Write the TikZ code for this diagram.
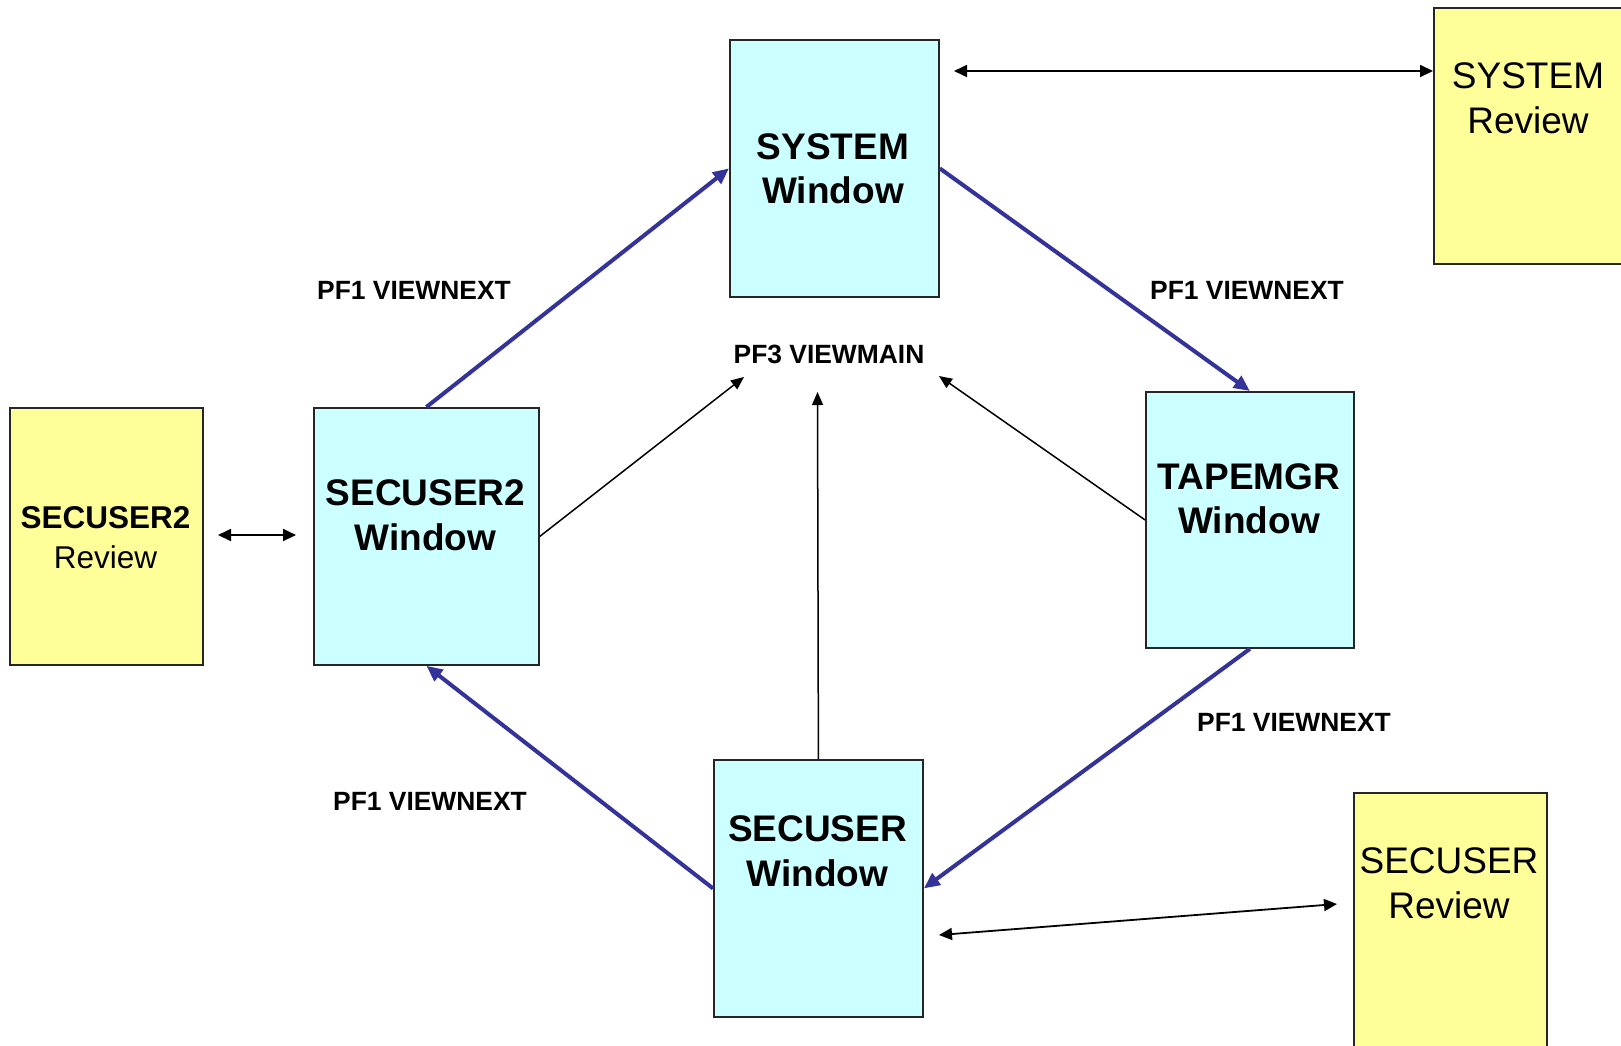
\documentclass[tikz,border=0pt]{standalone}
\usepackage{fontspec}
\setmainfont{Liberation Sans}
\usetikzlibrary{arrows.meta}
\definecolor{winfill}{HTML}{CCFFFF}
\definecolor{revfill}{HTML}{FFFF99}
\definecolor{navy}{HTML}{333399}
\tikzset{
  box/.style={draw=black!85, line width=1.8pt, inner sep=0pt, anchor=north west},
  win/.style={box, fill=winfill},
  rev/.style={box, fill=revfill},
  nextarrow/.style={draw=navy, line width=4pt, -{Triangle[length=16pt,width=14pt]}},
  mainarrow/.style={draw=black, line width=1.5pt, -{Triangle[length=13pt,width=11pt]}},
  botharrow/.style={draw=black, line width=1.8pt, {Triangle[length=13pt,width=12pt]}-{Triangle[length=13pt,width=12pt]}},
  bigb/.style={font=\fontsize{37}{44}\selectfont\bfseries, anchor=base, inner sep=0pt},
  bigr/.style={font=\fontsize{37}{44}\selectfont, anchor=base, inner sep=0pt},
  midb/.style={font=\fontsize{31.5}{38}\selectfont\bfseries, anchor=base, inner sep=0pt},
  midr/.style={font=\fontsize{31.5}{38}\selectfont, anchor=base, inner sep=0pt},
  lbl/.style={font=\fontsize{26.4}{32}\selectfont\bfseries, anchor=base, inner sep=0pt},
}
\begin{document}
\begin{tikzpicture}[x=1pt,y=-1pt]
\useasboundingbox (0,0) rectangle (1621,1045);
\clip (0,0) rectangle (1621,1045);
\fill[white] (0,0) rectangle (1621,1045);
% boxes
\node[win, minimum width=209pt, minimum height=257pt] (sysw) at (729,39) {};
\node[win, minimum width=225pt, minimum height=257pt] (sec2w) at (313,407) {};
\node[win, minimum width=208pt, minimum height=256pt] (tapew) at (1145,391) {};
\node[win, minimum width=209pt, minimum height=257pt] (secw) at (713,759) {};
\node[rev, minimum width=194pt, minimum height=256pt] (sysr) at (1433,7) {};
\node[rev, minimum width=193pt, minimum height=257pt] (sec2r) at (9,407) {};
\node[rev, minimum width=193pt, minimum height=257pt] (secr) at (1353,792) {};
% texts
\node[bigb] (t1a) at (833,159) {SYSTEM};
\node[bigb] (t1b) at (833,203) {Window};
\node[bigb] (t2a) at (425.5,505) {SECUSER2};
\node[bigb] (t2b) at (425.5,550) {Window};
\node[bigb] (t3a) at (1249,489) {TAPEMGR};
\node[bigb] (t3b) at (1249,533) {Window};
\node[bigb] (t4a) at (817.5,841) {SECUSER};
\node[bigb] (t4b) at (817.5,886) {Window};
\node[bigr] (r1a) at (1528,88) {SYSTEM};
\node[bigr] (r1b) at (1528,133) {Review};
\node[bigr] (r3a) at (1449,873) {SECUSER};
\node[bigr] (r3b) at (1449,918) {Review};
\node[midb] (r2a) at (105.5,528) {SECUSER2};
\node[midr] (r2b) at (105.5,568) {Review};
\node[lbl] (l1) at (414,299.5) {PF1 VIEWNEXT};
\node[lbl] (l2) at (1247,299.5) {PF1 VIEWNEXT};
\node[lbl] (l3) at (1294,731.5) {PF1 VIEWNEXT};
\node[lbl] (l4) at (430,810.5) {PF1 VIEWNEXT};
\node[lbl] (l5) at (829,363.5) {PF3 VIEWMAIN};
% PF1 VIEWNEXT cycle
\draw[nextarrow] (secw.west) -- (sec2w.south);
\draw[nextarrow] (sec2w.north) -- (sysw.west);
\draw[nextarrow] (sysw.east) -- (tapew.north);
\draw[nextarrow] (tapew.south) -- (secw.east);
% PF3 VIEWMAIN
\coordinate (m1) at (744,377);
\coordinate (m2) at (817.5,392);
\coordinate (m3) at (939,376);
\draw[mainarrow] (sec2w.east) -- (m1);
\draw[mainarrow] (secw.north) -- (m2);
\draw[mainarrow] (tapew.west) -- (m3);
% review links
\coordinate (d1) at (954,71);
\draw[botharrow] (d1) -- (sysr.west |- d1);
\coordinate (d2) at (218,535);
\coordinate (d3) at (296,535);
\draw[botharrow] (d2) -- (d3);
\coordinate (d4) at (939,935);
\coordinate (d5) at (1337,904);
\draw[botharrow] (d4) -- (d5);
\end{tikzpicture}
\end{document}
